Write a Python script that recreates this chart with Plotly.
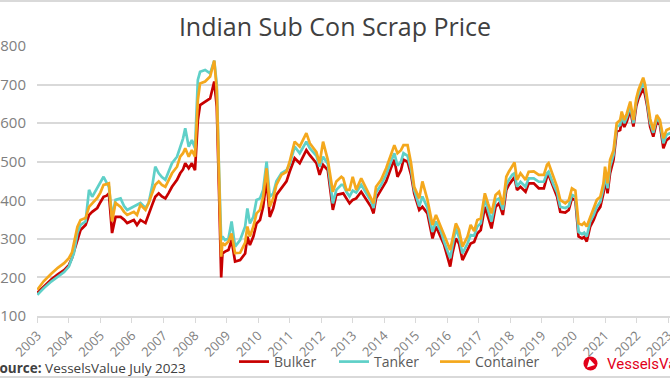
import plotly.graph_objects as go

# ---- data (decimal years) ----
t = [2003.00, 2003.20, 2003.45, 2003.65, 2003.85, 2004.00, 2004.10, 2004.16, 2004.27, 2004.37,
     2004.53, 2004.64, 2004.74, 2004.90, 2005.00, 2005.10, 2005.20, 2005.27, 2005.37, 2005.48,
     2005.64, 2005.75, 2005.85, 2006.06, 2006.16, 2006.27, 2006.43, 2006.53, 2006.65, 2006.74,
     2006.85, 2006.95, 2007.06, 2007.17, 2007.27, 2007.43, 2007.53, 2007.62, 2007.69, 2007.80,
     2007.90, 2008.00, 2008.09, 2008.16, 2008.32, 2008.48, 2008.61, 2008.69, 2008.76, 2008.83,
     2008.87, 2008.95, 2009.06, 2009.16, 2009.27, 2009.43, 2009.59, 2009.66, 2009.74, 2009.85,
     2009.95, 2010.06, 2010.16, 2010.27, 2010.37, 2010.48, 2010.58, 2010.74, 2010.90, 2011.00,
     2011.16, 2011.32, 2011.53, 2011.64, 2011.85, 2011.95, 2012.06, 2012.21, 2012.37, 2012.48,
     2012.64, 2012.70, 2012.80, 2012.90, 2013.00, 2013.11, 2013.27, 2013.43, 2013.58, 2013.66,
     2013.74, 2013.90, 2014.06, 2014.21, 2014.32, 2014.42, 2014.53, 2014.61, 2014.74, 2014.85,
     2014.95, 2015.11, 2015.21, 2015.37, 2015.53, 2015.64, 2015.80, 2015.90, 2016.09, 2016.16,
     2016.27, 2016.37, 2016.48, 2016.64, 2016.74, 2016.85, 2016.95, 2017.06, 2017.19, 2017.29,
     2017.40, 2017.53, 2017.64, 2017.76, 2017.87, 2017.95, 2018.06, 2018.13, 2018.21, 2018.32,
     2018.48, 2018.58, 2018.74, 2018.90, 2019.06, 2019.16, 2019.21, 2019.37, 2019.48, 2019.58,
     2019.74, 2019.85, 2019.95, 2020.06, 2020.16, 2020.27, 2020.34, 2020.42, 2020.53, 2020.64,
     2020.74, 2020.85, 2020.95, 2021.00, 2021.08, 2021.16, 2021.27, 2021.37, 2021.48, 2021.53,
     2021.61, 2021.69, 2021.80, 2021.90, 2021.99, 2022.06, 2022.14, 2022.21, 2022.27, 2022.34,
     2022.43, 2022.53, 2022.64, 2022.74, 2022.85, 2022.95, 2023.10, 2023.25, 2023.45]

bulker = [160, 176, 195, 208, 219, 232, 250, 267, 297, 323,
          336, 362, 370, 380, 395, 409, 412, 418, 315, 357,
          357, 350, 341, 349, 336, 349, 341, 366, 390, 409,
          418, 410, 405, 420, 435, 453, 470, 480, 496, 483,
          496, 478, 608, 647, 656, 664, 708, 643, 427, 200,
          262, 267, 271, 297, 241, 245, 262, 306, 284, 306,
          340, 349, 383, 453, 357, 379, 414, 431, 449, 474,
          509, 496, 530, 517, 496, 466, 492, 478, 375, 414,
          418, 418, 405, 392, 401, 405, 422, 401, 383, 366,
          405, 427, 449, 483, 505, 461, 478, 505, 500, 466,
          418, 375, 383, 366, 301, 332, 301, 284, 228, 262,
          301, 288, 245, 271, 288, 292, 314, 323, 383, 357,
          327, 383, 392, 362, 427, 440, 453, 460, 427, 435,
          422, 444, 444, 431, 431, 461, 466, 431, 409, 370,
          368, 375, 405, 400, 306, 301, 305, 293, 332, 349,
          370, 383, 418, 453, 418, 470, 505, 578, 582, 608,
          590, 604, 634, 591, 644, 664, 677, 690, 673, 643,
          591, 565, 604, 596, 535, 556, 565, 548, 540]

tanker = [155, 172, 190, 203, 214, 228, 248, 263, 315, 336,
          345, 427, 409, 431, 445, 461, 445, 435, 357, 401,
          405, 385, 375, 383, 388, 393, 380, 393, 440, 487,
          470, 460, 453, 475, 496, 513, 539, 560, 587, 539,
          556, 535, 712, 733, 738, 729, 762, 700, 480, 297,
          306, 297, 301, 345, 280, 297, 332, 379, 340, 357,
          401, 405, 427, 500, 409, 418, 449, 470, 478, 492,
          539, 522, 552, 535, 515, 487, 513, 495, 392, 427,
          440, 440, 422, 410, 425, 420, 440, 418, 398, 380,
          420, 440, 466, 500, 522, 490, 500, 522, 515, 480,
          427, 384, 410, 380, 318, 345, 318, 292, 250, 280,
          327, 305, 262, 288, 310, 308, 332, 340, 405, 375,
          345, 400, 405, 375, 440, 453, 466, 470, 435, 448,
          435, 457, 457, 448, 448, 470, 474, 440, 420, 383,
          380, 385, 414, 410, 318, 312, 316, 306, 345, 362,
          383, 396, 431, 466, 431, 487, 518, 591, 595, 620,
          600, 615, 645, 600, 655, 675, 690, 705, 690, 655,
          602, 575, 612, 603, 548, 570, 575, 560, 552]

container = [168, 190, 210, 225, 237, 250, 265, 290, 331, 349,
             354, 383, 393, 406, 420, 440, 442, 444, 345, 393,
             383, 370, 362, 370, 362, 388, 375, 393, 420, 440,
             449, 440, 435, 455, 470, 487, 513, 522, 535, 513,
             530, 513, 660, 703, 708, 721, 762, 686, 460, 254,
             289, 284, 293, 314, 263, 264, 290, 332, 306, 332,
             366, 375, 409, 483, 383, 405, 440, 466, 474, 500,
             552, 539, 574, 548, 525, 496, 552, 505, 422, 449,
             461, 457, 427, 427, 461, 427, 457, 431, 409, 392,
             435, 453, 483, 517, 543, 522, 530, 543, 543, 496,
             435, 405, 449, 401, 336, 362, 332, 310, 271, 297,
             340, 323, 280, 306, 336, 320, 349, 353, 418, 392,
             366, 414, 422, 388, 461, 474, 487, 498, 453, 470,
             453, 474, 475, 466, 466, 492, 496, 460, 435, 401,
             392, 400, 431, 425, 340, 336, 342, 332, 357, 379,
             401, 409, 444, 487, 444, 505, 530, 600, 608, 630,
             608, 625, 656, 608, 664, 686, 703, 718, 700, 664,
             612, 582, 621, 608, 561, 582, 588, 572, 562]

year_vals = list(range(2003, 2024))
year_labels = [str(y) for y in year_vals]

series_names = ["Bulker", "Tanker", "Container"]
series_colors = ["#C80000", "#5FD0C8", "#F4A81D"]
legend_ids = ["legend", "legend2", "legend3"]
legend_left_px = [234, 334, 435]

FONT = "Open Sans, Lato, sans-serif"
PL, PR, PT, PB = 37, 670, 46, 316  # plot pixel box
def px_x(x):
    return (x - PL) / (PR - PL)
def px_y(y):
    return (PB - y) / (PB - PT)

fig = go.Figure()
for name, vals, col, lg in zip(series_names, [bulker, tanker, container], series_colors, legend_ids):
    fig.add_trace(go.Scatter(x=t, y=vals, mode="lines", name=name, legend=lg,
                             line=dict(color=col, width=2.7)))

legend_style = dict(orientation="h", xanchor="left", y=px_y(362), yanchor="middle",
                    font=dict(family=FONT, size=14, color="#595959"),
                    bgcolor="rgba(0,0,0,0)", itemwidth=30)
legends = {lg: dict(legend_style, x=px_x(xp)) for lg, xp in zip(legend_ids, legend_left_px)}

fig.update_layout(
    width=670, height=380,
    margin=dict(l=PL, r=0, t=PT, b=380 - PB),
    paper_bgcolor="white", plot_bgcolor="white",
    font=dict(family=FONT, color="#7F7F7F"),
    title=dict(text="Indian Sub Con Scrap Price", x=0.5, xref="container", xanchor="center",
               y=1 - 27 / 380, yanchor="middle",
               font=dict(family=FONT, size=25, color="#404040")),
    showlegend=True,
    xaxis=dict(range=[2002.99, 2023.06], tickmode="array", tickvals=year_vals, ticktext=year_labels,
               tickangle=-45, showgrid=False, zeroline=False, showline=True,
               linecolor="#D9D9D9", linewidth=1.5, ticks="outside", ticklen=5, tickcolor="#D9D9D9",
               tickfont=dict(size=13, color="#7F7F7F"), automargin=False,
               ticklabeloverflow="allow"),
    yaxis=dict(range=[100, 800], dtick=100, showgrid=True, gridcolor="#D9D9D9", gridwidth=1.5,
               zeroline=False, showline=False, ticks="", ticklabelstandoff=10,
               tickfont=dict(size=15, color="#7F7F7F"), automargin=False,
               ticklabeloverflow="allow"),
    **legends,
)

# frame lines
fig.add_shape(type="line", xref="paper", yref="paper", x0=px_x(0), x1=px_x(670),
              y0=px_y(1), y1=px_y(1), line=dict(color="#D9D9D9", width=2))
fig.add_shape(type="line", xref="paper", yref="paper", x0=px_x(0), x1=px_x(670),
              y0=px_y(377), y1=px_y(377), line=dict(color="#D9D9D9", width=2))

# source
fig.add_annotation(text="<b>Source:</b> VesselsValue July 2023", xref="paper", yref="paper",
                   x=px_x(-10), y=px_y(368), xanchor="left", yanchor="middle", showarrow=False,
                   font=dict(family=FONT, size=13.5, color="#404040"))

# logo
fig.add_shape(type="circle", xref="paper", yref="paper", xsizemode="pixel", ysizemode="pixel",
              xanchor=px_x(590.5), yanchor=px_y(363.5), x0=-7, x1=7, y0=-7, y1=7,
              fillcolor="#E2001A", line=dict(width=0))
fig.add_shape(type="path", xref="paper", yref="paper", xsizemode="pixel", ysizemode="pixel",
              xanchor=px_x(590.5), yanchor=px_y(363.5),
              path="M -3.5 -4 L 4.5 -1.5 L -1 4.5 Z",
              fillcolor="white", line=dict(width=0))
fig.add_annotation(text="VesselsValue", xref="paper", yref="paper",
                   x=px_x(605), y=px_y(364), xanchor="left", yanchor="middle", showarrow=False,
                   font=dict(family="Roboto, sans-serif", size=15, color="#E2001A"))

fig.write_html("out.html", config={"displayModeBar": False},
               post_script="document.body.style.margin='0px';")
